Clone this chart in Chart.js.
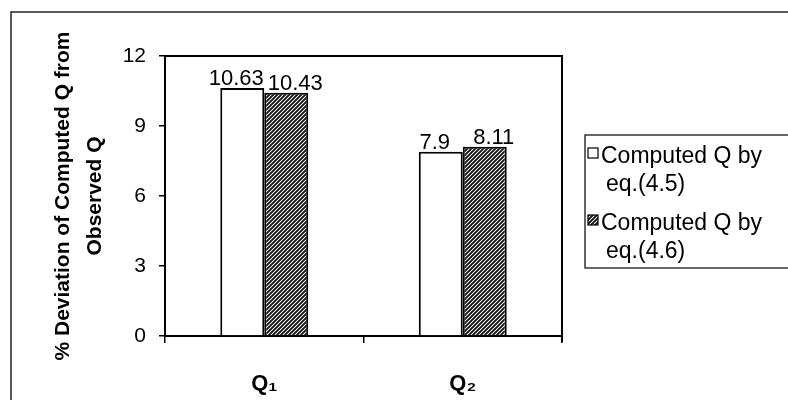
<!DOCTYPE html>
<html>
<head>
<meta charset="utf-8">
<script src="https://cdn.jsdelivr.net/npm/chart.js@4.4.0/dist/chart.umd.min.js"></script>
<style>
  html, body { margin: 0; padding: 0; background: #fff; }
  canvas { display: block; }
</style>
</head>
<body>
<canvas id="deviationChart" width="788" height="400"></canvas>
<script>
// data
const categories = ['Q\u2081', 'Q\u2082'];
const eq45Values = [10.63, 7.9];
const eq46Values = [10.43, 8.11];
const seriesNames = [['Computed Q by', 'eq.(4.5)'], ['Computed Q by', 'eq.(4.6)']];
const yTicks = [0, 3, 6, 9, 12];
const yTitle = ['% Deviation of Computed Q from', 'Observed Q'];

const FONT = '"Liberation Sans", Arial, sans-serif';

function makeHatch() {
    const c = document.createElement('canvas');
    c.width = 4;
    c.height = 4;
    const g = c.getContext('2d');
    g.fillStyle = '#fff';
    g.fillRect(0, 0, 4, 4);
    g.strokeStyle = '#111';
    g.lineWidth = 1.9;
    g.beginPath();
    g.moveTo(-1, 5); g.lineTo(5, -1);
    g.moveTo(-1, 1); g.lineTo(1, -1);
    g.moveTo(3, 5); g.lineTo(5, 3);
    g.stroke();
    return g.createPattern(c, 'repeat');
}
const hatch = makeHatch();

// outer frame + box round the plot area
const framePlugin = {
    id: 'frame',
    beforeDraw(chart) {
        const ctx = chart.ctx;
        ctx.save();
        ctx.fillStyle = '#fff';
        ctx.fillRect(0, 0, chart.width, chart.height);
        ctx.strokeStyle = '#222';
        ctx.lineWidth = 1.5;
        ctx.beginPath();
        ctx.moveTo(11, chart.height);
        ctx.lineTo(11, 12);
        ctx.lineTo(chart.width, 12);
        ctx.stroke();
        ctx.restore();
    },
    afterDraw(chart) {
        const { ctx, chartArea: a } = chart;
        ctx.save();
        ctx.strokeStyle = '#000';
        ctx.lineWidth = 2;
        ctx.beginPath();
        ctx.moveTo(a.left, a.top);
        ctx.lineTo(a.right, a.top);
        ctx.lineTo(a.right, a.bottom + 6);
        ctx.stroke();
        ctx.restore();
    }
};

// value labels on top of the bars
const labelShift = [-6, 9];
const valueLabels = {
    id: 'valueLabels',
    afterDatasetsDraw(chart) {
        const ctx = chart.ctx;
        ctx.save();
        ctx.font = '22px ' + FONT;
        ctx.fillStyle = '#000';
        ctx.textAlign = 'center';
        ctx.textBaseline = 'bottom';
        chart.data.datasets.forEach((ds, i) => {
            chart.getDatasetMeta(i).data.forEach((bar, j) => {
                ctx.fillText(String(ds.data[j]), bar.x + labelShift[i], bar.y + 2);
            });
        });
        ctx.restore();
    }
};

// boxed legend on the right, two lines per entry
const boxLegend = {
    id: 'boxLegend',
    afterDraw(chart) {
        const ctx = chart.ctx;
        ctx.save();
        ctx.strokeStyle = '#000';
        ctx.lineWidth = 1.2;
        ctx.strokeRect(585, 135, 220, 133);
        ctx.font = '23px ' + FONT;
        ctx.fillStyle = '#000';
        ctx.textBaseline = 'alphabetic';
        chart.data.datasets.forEach((ds, i) => {
            const top = 148 + i * 67;
            ctx.fillStyle = ds.backgroundColor;
            ctx.fillRect(588, top, 10, 10);
            ctx.lineWidth = 1.2;
            ctx.strokeRect(588, top, 10, 10);
            ctx.fillStyle = '#000';
            const lines = seriesNames[i];
            ctx.fillText(lines[0], 601, top + 15);
            ctx.fillText(lines[1], 606, top + 43);
        });
        ctx.restore();
    }
};

const config = {
    type: 'bar',
    data: {
        labels: categories,
        datasets: [
            {
                label: seriesNames[0].join(' '),
                data: eq45Values,
                backgroundColor: '#fff',
                borderColor: '#000',
                borderWidth: 2,
                categoryPercentage: 0.443,
                barPercentage: 1.0
            },
            {
                label: seriesNames[1].join(' '),
                data: eq46Values,
                backgroundColor: hatch,
                borderColor: '#000',
                borderWidth: 2,
                categoryPercentage: 0.443,
                barPercentage: 1.0
            }
        ]
    },
    options: {
        responsive: false,
        animation: false,
        devicePixelRatio: 1,
        layout: { padding: { top: 56, right: 226, left: 0, bottom: 0 } },
        plugins: {
            legend: { display: false },
            tooltip: { enabled: false }
        },
        scales: {
            x: {
                grid: {
                    display: true,
                    drawOnChartArea: false,
                    offset: true,
                    tickLength: 7,
                    color: '#000',
                    lineWidth: 1.5
                },
                border: { display: true, color: '#000', width: 2 },
                ticks: {
                    color: '#000',
                    font: { family: FONT, size: 22, weight: 'bold' },
                    padding: 28
                },
                afterFit: (s) => { s.height = 64; }
            },
            y: {
                min: 0,
                max: 12,
                afterBuildTicks: (s) => { s.ticks = yTicks.map(v => ({ value: v })); },
                grid: {
                    display: true,
                    drawOnChartArea: false,
                    tickLength: 6,
                    color: '#000',
                    lineWidth: 1.5
                },
                border: { display: true, color: '#000', width: 2 },
                ticks: {
                    color: '#000',
                    font: { family: FONT, size: 21 },
                    padding: 13
                },
                title: {
                    display: true,
                    text: yTitle,
                    color: '#000',
                    font: { family: FONT, size: 21, weight: 'bold', lineHeight: 1.52 },
                    padding: { top: 47, bottom: 0 }
                },
                afterFit: (s) => { s.width = 165; }
            }
        }
    },
    plugins: [framePlugin, valueLabels, boxLegend]
};

new Chart(document.getElementById('deviationChart').getContext('2d'), config);
</script>
</body>
</html>
